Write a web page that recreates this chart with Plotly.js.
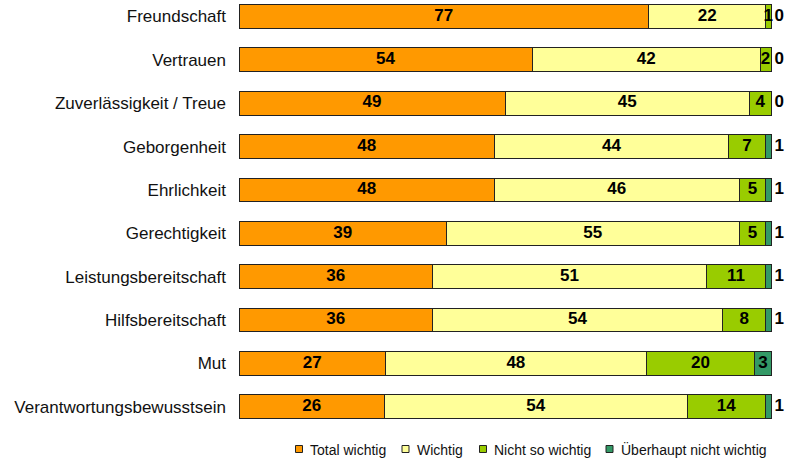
<!DOCTYPE html>
<html>
<head>
<meta charset="utf-8">
<script src="https://cdn.plot.ly/plotly-3.0.1.min.js"></script>
<style>html,body{margin:0;padding:0;background:#fff;}#chart{width:786px;height:461px;}</style>
</head>
<body>
<div id="chart"></div>
<script>
const categories = ["Freundschaft","Vertrauen","Zuverlässigkeit / Treue","Geborgenheit","Ehrlichkeit","Gerechtigkeit","Leistungsbereitschaft","Hilfsbereitschaft","Mut","Verantwortungsbewusstsein"];
const seriesNames = ["Total wichtig","Wichtig","Nicht so wichtig","Überhaupt nicht wichtig"];
const totalWichtig = [77,54,49,48,48,39,36,36,27,26];
const wichtig = [22,42,45,44,46,55,51,54,48,54];
const nichtSoWichtig = [1,2,4,7,5,5,11,8,20,14];
const ueberhauptNicht = [0,0,0,1,1,1,1,1,3,1];
const colors = ["#FF9900","#FFFF99","#99CC00","#339966"];

const FONT = 'Liberation Sans, Arial, Helvetica, sans-serif';
const all = [totalWichtig, wichtig, nichtSoWichtig, ueberhauptNicht];

// stacked bars (normalised to 100 % by Plotly)
const traces = all.map((vals, i) => ({
  type: 'bar',
  orientation: 'h',
  name: seriesNames[i],
  y: categories,
  x: vals,
  marker: {color: colors[i], line: {color: '#222', width: 1}},
  showlegend: false,
  hoverinfo: 'skip'
}));

// geometry: 0 % at x=239 px, 100 % at x=771 px; plot area runs to the right edge
const PL = 239, P100 = 532, PW = 786 - PL, PB = 428, PH = 428;
const xMax = 100 * PW / P100;
const outsideShift = 3.5 / P100 * 100;  // small gap right of the bar end

// value labels, placed at the centre of each normalised segment
const lx = [], ly = [], lt = [], lp = [];
categories.forEach((c, r) => {
  const total = all.reduce((s, a) => s + a[r], 0);
  let cum = 0;
  all.forEach((a, i) => {
    const v = a[r];
    const isLast = i === all.length - 1;
    if (isLast && v < 2) {
      lx.push(100 + outsideShift); lp.push('middle right');
    } else {
      lx.push((cum + v / 2) / total * 100); lp.push('middle center');
    }
    ly.push(c); lt.push(String(v));
    cum += v;
  });
});
traces.push({
  type: 'scatter', mode: 'text', x: lx, y: ly, text: lt, textposition: lp,
  textfont: {family: FONT, size: 17, color: '#000', weight: 'bold'},
  cliponaxis: false, showlegend: false, hoverinfo: 'skip'
});

// legend (drawn as paper-positioned squares and labels)
const px = v => (v - PL) / PW, py = v => (PB - v) / PH;
const legendSquareX = [295.5, 402, 479.5, 606];
const legendTextX = [308, 415, 492, 619];
const shapes = [], annotations = [];
seriesNames.forEach((n, i) => {
  shapes.push({type: 'rect', xref: 'paper', yref: 'paper',
    x0: px(legendSquareX[i]), x1: px(legendSquareX[i] + 7), y0: py(452.5), y1: py(445.5),
    fillcolor: colors[i], line: {color: '#222', width: 1}});
  annotations.push({xref: 'paper', yref: 'paper', x: px(legendTextX[i]), y: py(449.5),
    xanchor: 'left', yanchor: 'middle', text: n, showarrow: false,
    font: {family: FONT, size: 14, color: '#111'}});
});

const layout = {
  width: 786, height: 461,
  margin: {l: PL, r: 0, t: 0, b: 461 - PB, pad: 0, autoexpand: false},
  paper_bgcolor: '#fff', plot_bgcolor: '#fff',
  barmode: 'stack',
  barnorm: 'percent',
  bargap: 0.45,
  showlegend: false,
  font: {family: FONT, color: '#111'},
  xaxis: {range: [0, xMax], visible: false, fixedrange: true},
  yaxis: {
    type: 'category',
    range: [9.49, -0.38],
    showgrid: false, zeroline: false, showline: false,
    ticks: '', ticklabelstandoff: 12,
    tickfont: {family: FONT, size: 17, color: '#111'}
  },
  shapes: shapes,
  annotations: annotations
};
Plotly.newPlot('chart', traces, layout, {displayModeBar: false, staticPlot: true});
</script>
</body>
</html>
